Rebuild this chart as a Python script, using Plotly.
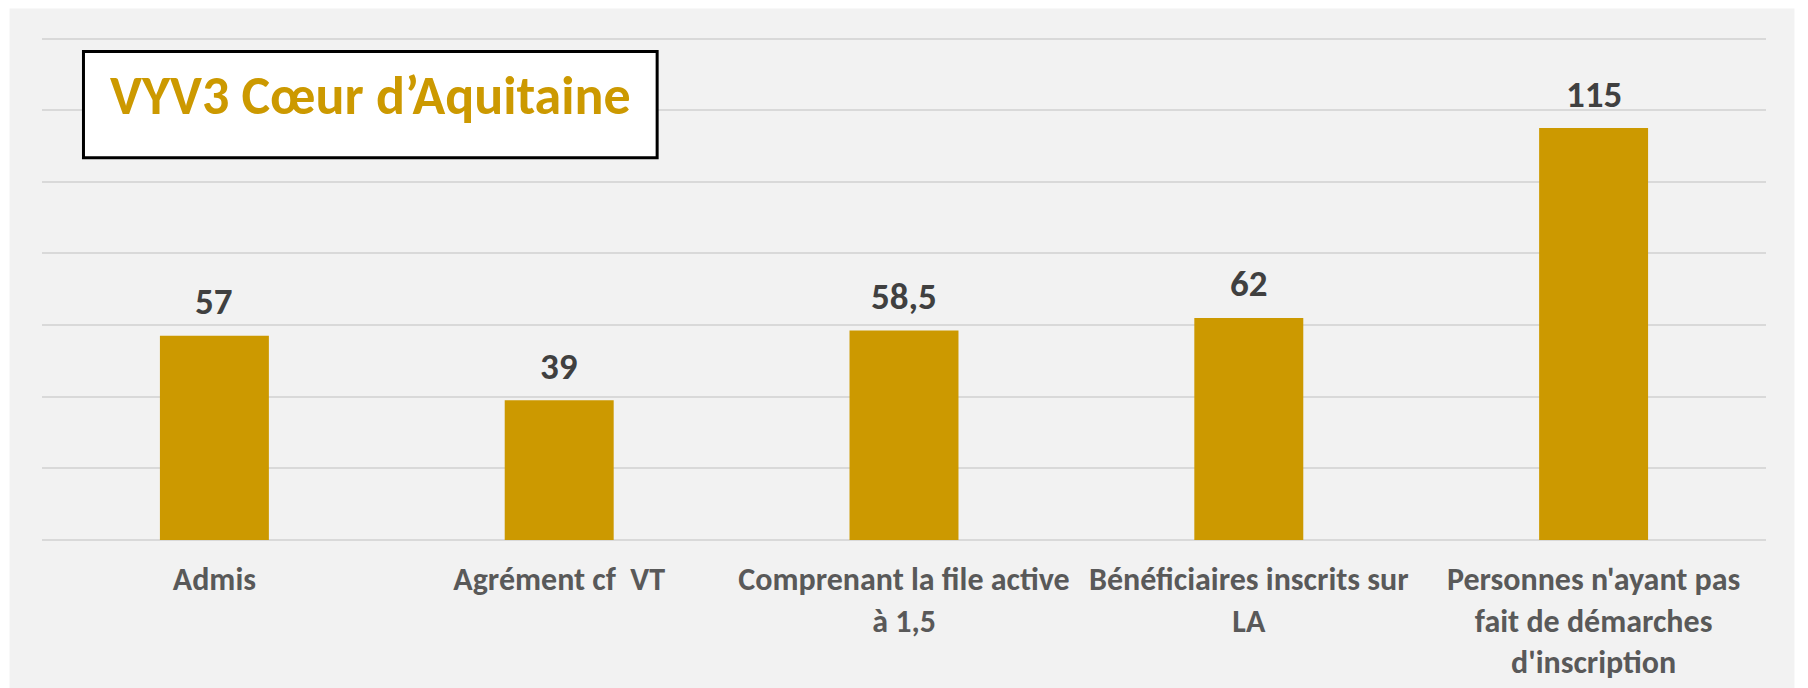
import plotly.graph_objects as go

# Data
categories = [
    "Admis",
    "Agrément cf  VT",
    "Comprenant la file active à 1,5",
    "Bénéficiaires inscrits sur LA",
    "Personnes n'ayant pas fait de démarches d'inscription",
]
tick_labels = [
    "Admis",
    "Agrément cf\u00a0\u00a0VT",
    "Comprenant la file active<br>à 1,5",
    "Bénéficiaires inscrits sur<br>LA",
    "Personnes n'ayant pas<br>fait de démarches<br>d'inscription",
]
values = [57, 39, 58.5, 62, 115]
value_labels = ["57", "39", "58,5", "62", "115"]
title_text = "VYV3 Cœur d’Aquitaine"

GOLD = "#cc9900"
FONT = "Carlito, Calibri, 'Liberation Sans Narrow', 'DejaVu Sans Condensed', Lato, sans-serif"

W, H = 1808, 688
Y_MAX = 141
ML, MR, MB = 41.5, 41.5, 148
MT = 39 - (Y_MAX - 140) * 501 / 140
PW = W - ML - MR
PH = H - MT - MB


def px_x(p):
    return (p - ML) / PW


def px_y(p):
    return (H - MB - p) / PH


fig = go.Figure(
    go.Bar(
        x=categories,
        y=values,
        marker=dict(color=GOLD, line=dict(width=0)),
        hoverinfo="skip",
    )
)

# value labels above bars
for cat, v, lab in zip(categories, values, value_labels):
    fig.add_annotation(
        x=cat, y=v, text=f"<b>{lab}</b>", showarrow=False,
        yanchor="middle", yshift=34,
        font=dict(family=FONT, size=37, color="#404040"),
    )

# grey panel behind the chart
fig.add_shape(
    type="rect", xref="paper", yref="paper", layer="below",
    x0=px_x(9), x1=px_x(1795), y0=px_y(688), y1=px_y(9),
    fillcolor="#f2f2f2", line=dict(width=0),
)

# title box
fig.add_shape(
    type="rect", xref="paper", yref="paper", layer="above",
    x0=px_x(83), x1=px_x(657), y0=px_y(158), y1=px_y(52),
    fillcolor="white", line=dict(color="black", width=3),
)
fig.add_annotation(
    xref="paper", yref="paper", x=px_x(370), y=px_y(96),
    text=f"<b>{title_text}</b>", showarrow=False,
    xanchor="center", yanchor="middle",
    font=dict(family=FONT, size=54, color=GOLD),
)

fig.update_layout(
    width=W, height=H,
    margin=dict(l=ML, r=MR, t=MT, b=MB, pad=0, autoexpand=False),
    paper_bgcolor="white",
    plot_bgcolor="rgba(0,0,0,0)",
    bargap=0.684,
    showlegend=False,
    xaxis=dict(
        tickmode="array", tickvals=categories,
        ticktext=[f"<b>{t}</b>" for t in tick_labels],
        tickfont=dict(family=FONT, size=32, color="#595959"),
        showgrid=False, showline=False, ticks="", zeroline=False,
        ticklabelstandoff=17, tickangle=0, automargin=False,
    ),
    yaxis=dict(
        range=[0, Y_MAX], tickvals=[20, 40, 60, 80, 100, 120, 140],
        showticklabels=False,
        showgrid=True, gridcolor="#d9d9d9", gridwidth=2,
        zeroline=True, zerolinecolor="#d9d9d9", zerolinewidth=2,
        showline=False, ticks="", automargin=False,
    ),
)

fig.write_html("out.html")
